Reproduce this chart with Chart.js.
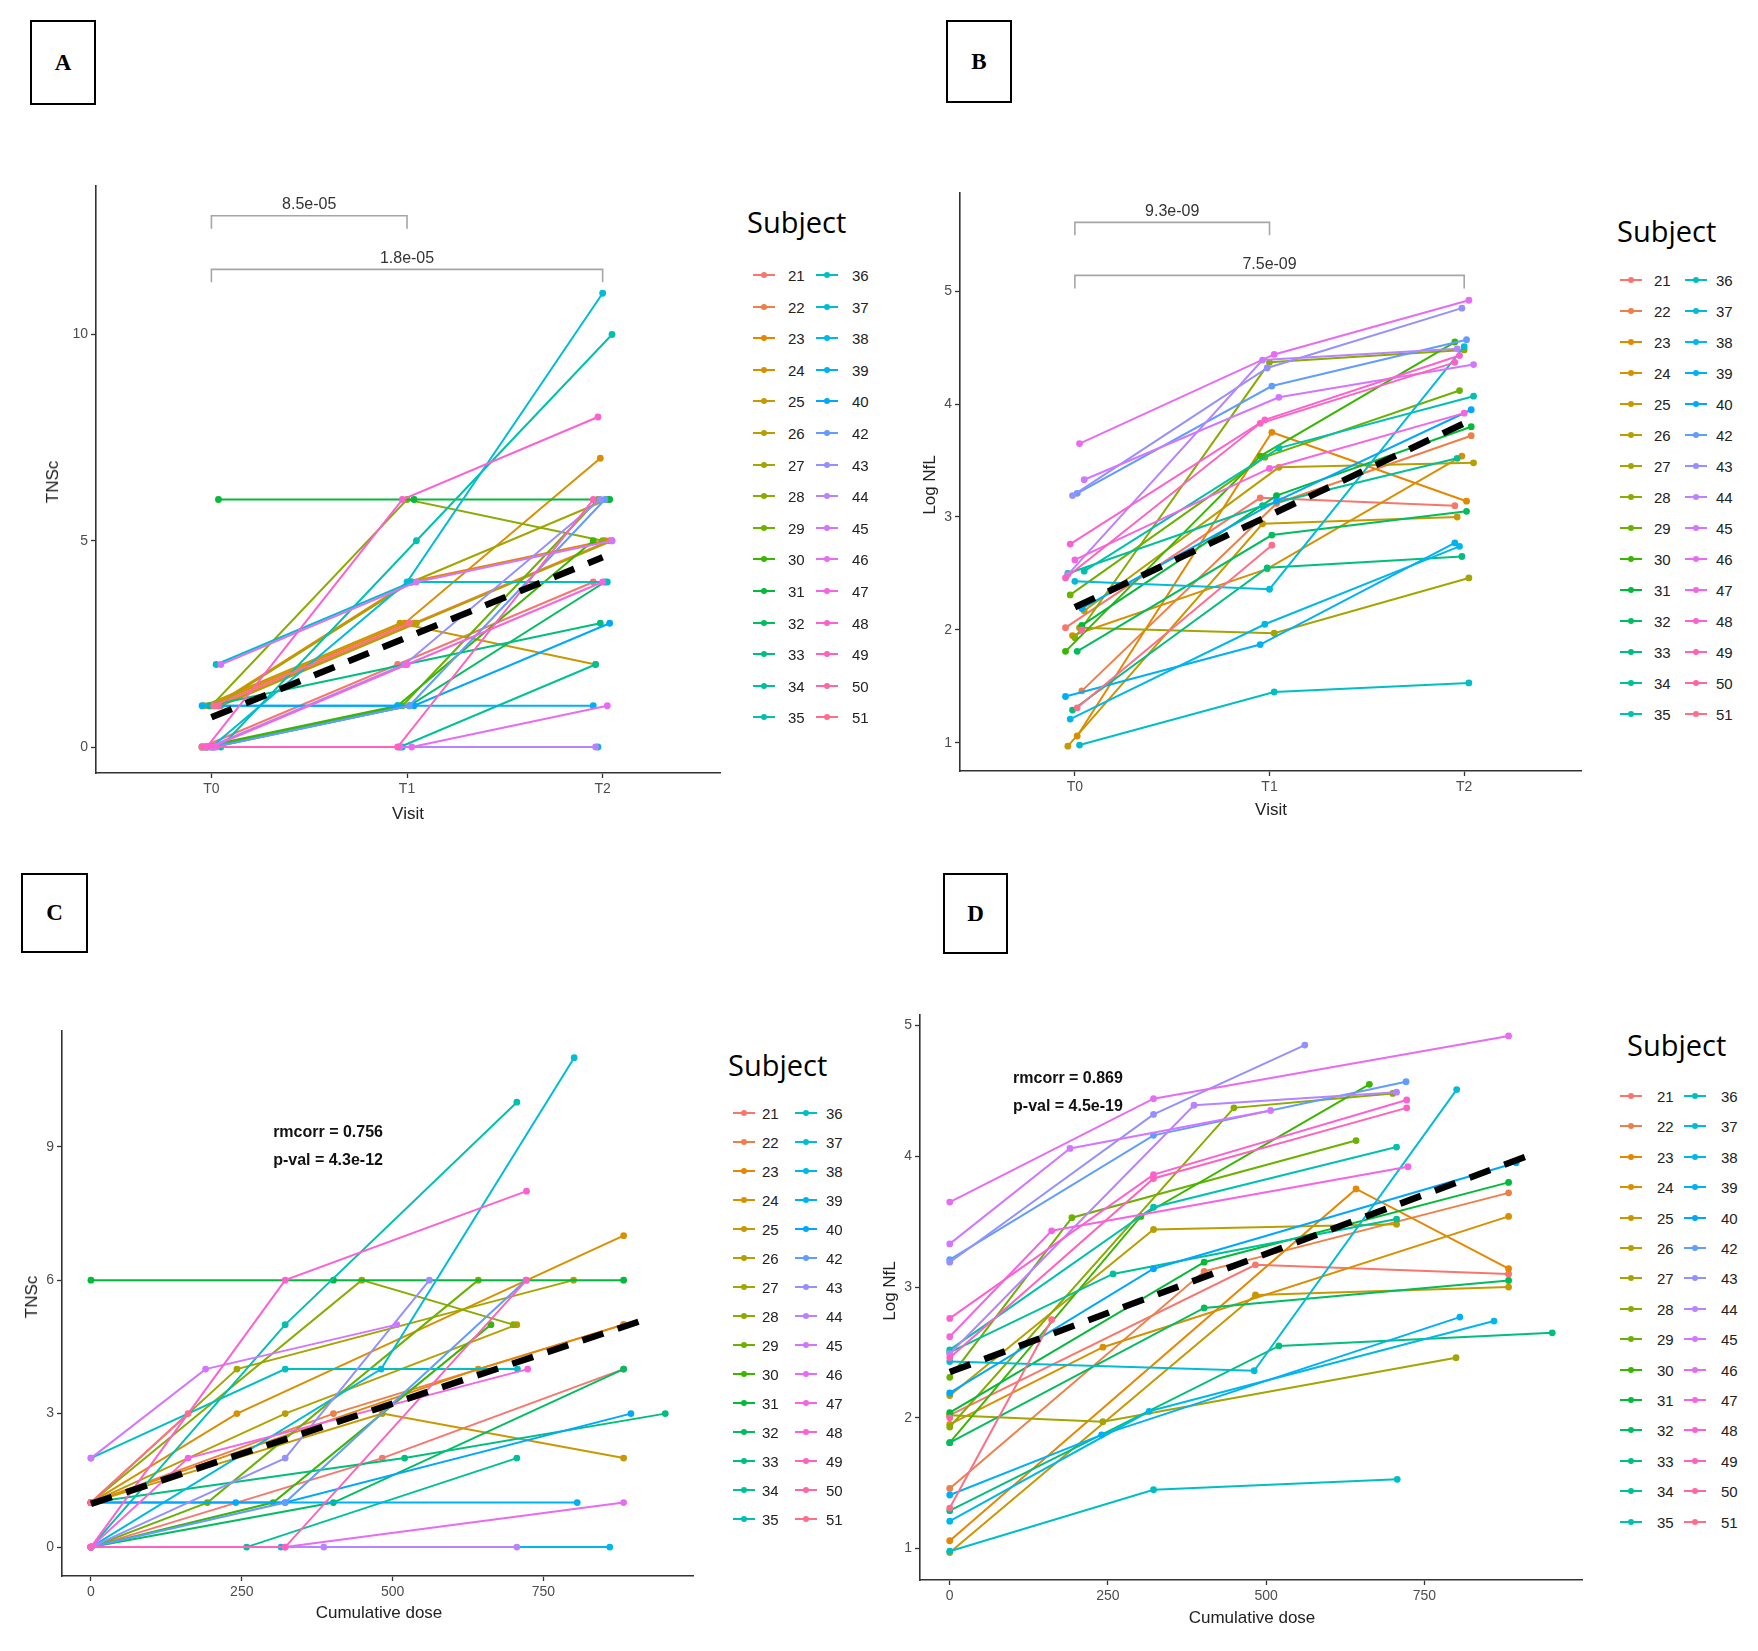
<!DOCTYPE html>
<html lang="en">
<head>
<meta charset="utf-8">
<script src="https://cdn.jsdelivr.net/npm/chart.js@4.4.0/dist/chart.umd.min.js"></script>
<style>
  body {margin:0; background:#fff; width:1758px; height:1651px; position:relative; overflow:hidden; font-family:"Liberation Sans", Arial, sans-serif;}
  canvas {position:absolute;}
  .tag {position:absolute; border:2px solid #000; box-sizing:border-box; font:bold 23px "Liberation Serif", "Times New Roman", serif;
        display:flex; align-items:center; justify-content:center; color:#000;}
  .lbl {position:absolute; color:#222; font-size:17px; white-space:nowrap; transform:translate(-50%,-50%);}
  .ylbl {transform:translate(-50%,-50%) rotate(-90deg);}
  .ltitle {position:absolute; font:29px "Open Sans", sans-serif; color:#000; transform:translateY(-50%);}
  .lkey {position:absolute; width:22px; height:2px; transform:translateY(-50%);}
  .lkey i {position:absolute; left:8px; top:-2px; width:6px; height:6px; border-radius:50%; background:inherit;}
  .ltxt {position:absolute; font-size:15px; color:#222; transform:translateY(-50%);}
</style>
</head>
<body>

<script type="text/javascript">
// subjects, in legend order
var subjects = ['21','22','23','24','25','26','27','28','29','30','31','32','33','34','35',
                '36','37','38','39','40','42','43','44','45','46','47','48','49','50','51'];
var visits = ['T0', 'T1', 'T2'];

// Log NfL at each visit
var nflT0 = [2.02,1.46,1.06,1.95,0.97,2.17,2.02,1.93,2.31,1.81,2.04,1.81,1.29,2.50,2.52,
             0.98,2.43,1.21,1.41,2.19,3.21,3.19,2.49,3.33,3.65,2.62,2.76,2.46,2.00,1.31];
var nflT1 = [3.17,3.12,3.75,2.54,2.94,3.44,1.97,4.37,3.53,3.54,3.19,2.84,2.55,3.10,3.61,
             1.45,2.36,2.05,1.87,3.14,4.16,4.32,4.39,4.06,4.44,3.43,3.86,3.83,null,2.75];
var nflT2 = [3.10,3.72,3.14,3.54,3.00,3.48,2.46,4.48,4.12,4.55,3.80,3.05,2.65,3.52,4.07,
             1.53,4.51,2.74,2.77,3.95,4.57,4.85,4.49,4.35,4.92,3.92,4.43,4.37,null,null];

// TNSc at each visit
var tnsT0 = [0,1,1,1,1,1,1,1,0,0,6,0,1,0,0, 2,0,0,1,1,0,0,0,2,0,0,0,0,1,1];
var tnsT1 = [2,3,4,3,3,3,4,6,1,1,6,1,2,0,5, 4,4,0,1,1,1,2,0,4,0,2,6,0,null,3];
var tnsT2 = [4,5,5,7,2,5,6,5,6,5,6,4,3,2,10, 4,11,0,1,3,6,6,0,5,1,4,8,6,null,null];

// cumulative dose at T1 and T2 (T0 = 0)
var doseT1 = [483,402,642,242,483,322,242,449,193,302,402,402,520,258,322,
              322,481,315,240,322,322,322,386,190,322,161,322,322,null,161];
var doseT2 = [883,883,883,883,883,706,800,700,642,663,883,883,952,706,706,
              707,801,860,806,895,721,561,706,507,883,724,722,722,null,null];

// fitted trend lines
var trendVisitX = [0, 2];
var trendTnsVisit = [0.72, 4.6];
var trendNflVisit = [2.2, 3.83];
var trendDoseTnsX = [0, 920];
var trendDoseTns = [0.97, 5.12];
var trendDoseNflX = [0, 912];
var trendDoseNfl = [2.35, 4.0];

// tick labels
var tnsTicksA = [0, 5, 10];
var tnsTicksC = [0, 3, 6, 9];
var nflTicks = [1, 2, 3, 4, 5];
var doseTicks = [0, 250, 500, 750];

// pairwise test labels
var pairFrom = [0, 0];
var pairTo = [1, 2];
var pairTns = ['8.5e-05', '1.8e-05'];
var pairNfl = ['9.3e-09', '7.5e-09'];

// ggplot default hue palette
function hcl(h, c, l) {
    var hr = h * Math.PI / 180;
    var U = c * Math.cos(hr), V = c * Math.sin(hr);
    var Xn = 95.047, Yn = 100, Zn = 108.883;
    var den = Xn + 15 * Yn + 3 * Zn;
    var un = 4 * Xn / den, vn = 9 * Yn / den;
    var Y = Yn * Math.pow((l + 16) / 116, 3);
    var u = U / (13 * l) + un, v = V / (13 * l) + vn;
    var X = 9 * Y * u / (4 * v), Z = -X / 3 - 5 * Y + 3 * Y / v;
    var x = X / 100, y = Y / 100, z = Z / 100;
    var rgb = [3.240479 * x - 1.537150 * y - 0.498535 * z,
              -0.969256 * x + 1.875992 * y + 0.041556 * z,
               0.055648 * x - 0.204043 * y + 1.057311 * z];
    return 'rgb(' + rgb.map(function (t) {
        t = t <= 0.0031308 ? 12.92 * t : 1.055 * Math.pow(t, 1 / 2.4) - 0.055;
        return Math.round(255 * Math.min(1, Math.max(0, t)));
    }).join(',') + ')';
}
var colors = subjects.map(function (s, i) { return hcl(15 + i * 360 / subjects.length, 100, 65); });

Chart.defaults.font.family = '"Liberation Sans", Arial, sans-serif';
Chart.defaults.animation = false;

function addDiv(cls, text, x, y, extra) {
    var d = document.createElement('div');
    d.className = cls;
    d.textContent = text;
    d.style.left = x + 'px';
    d.style.top = y + 'px';
    if (extra) for (var k in extra) d.style[k] = extra[k];
    document.body.appendChild(d);
    return d;
}

function legend(x0, y0, keyX1, txtX1, keyX2, txtX2, rowY, step) {
    addDiv('ltitle', 'Subject', x0, y0);
    subjects.forEach(function (s, i) {
        var col = i < 15 ? 0 : 1, row = i % 15;
        var y = rowY + row * step;
        var k = addDiv('lkey', '', col ? keyX2 : keyX1, y, {background: colors[i]});
        k.appendChild(document.createElement('i'));
        addDiv('ltxt', s, col ? txtX2 : txtX1, y);
    });
}

var annotPlugin = {
    id: 'annot',
    afterDatasetsDraw: function (chart, args, opts) {
        var ctx = chart.ctx, xs = chart.scales.x, ys = chart.scales.y;
        ctx.save();
        (opts.brackets || []).forEach(function (b) {
            var x0 = xs.getPixelForValue(b.from), x1 = xs.getPixelForValue(b.to);
            var yt = ys.getPixelForValue(b.y);
            ctx.strokeStyle = '#a6a6a6';
            ctx.lineWidth = 1.6;
            ctx.beginPath();
            ctx.moveTo(x0, yt + 13); ctx.lineTo(x0, yt); ctx.lineTo(x1, yt); ctx.lineTo(x1, yt + 13);
            ctx.stroke();
            ctx.fillStyle = '#333';
            ctx.font = '16px "Liberation Sans", Arial, sans-serif';
            ctx.textAlign = 'center';
            ctx.textBaseline = 'bottom';
            ctx.fillText(b.label, (x0 + x1) / 2, yt - 3);
        });
        (opts.texts || []).forEach(function (t) {
            ctx.fillStyle = '#111';
            ctx.font = 'bold 16px "Liberation Sans", Arial, sans-serif';
            ctx.textAlign = 'left';
            ctx.textBaseline = 'middle';
            ctx.fillText(t.text, xs.getPixelForValue(t.x), ys.getPixelForValue(t.y));
        });
        ctx.restore();
    }
};

function fixedTicks(arr) {
    return function (scale) { scale.ticks = arr.map(function (v) { return {value: v}; }); };
}

function panel(p) {
    var padL = 60, padT = 20, padR = 20, padB = 42;
    var cv = document.createElement('canvas');
    cv.width = p.plot.r - p.plot.l + padL + padR;
    cv.height = p.plot.b - p.plot.t + padT + padB;
    cv.style.left = (p.plot.l - padL) + 'px';
    cv.style.top = (p.plot.t - padT) + 'px';
    document.body.appendChild(cv);

    var datasets = subjects.map(function (s, i) {
        var pts = [];
        for (var v = 0; v < 3; v++) {
            var xv = p.xOf(i, v), yv = p.yOf(i, v);
            if (xv !== null && yv !== null) pts.push({x: xv, y: yv});
        }
        return {label: s, data: pts, borderColor: colors[i], backgroundColor: colors[i],
                borderWidth: 2, pointRadius: 3.4, pointBorderWidth: 0, order: 100 - i};
    });
    datasets.push({label: 'trend', order: 0, borderColor: '#000', borderWidth: 6.5,
                   borderDash: [22, 15], pointRadius: 0,
                   data: p.trendX.map(function (x, k) { return {x: x, y: p.trendY[k]}; })});

    var axisCommon = {
        grid: {drawOnChartArea: false, drawTicks: true, tickLength: 5, color: '#333', tickWidth: 1.3},
        border: {display: true, color: '#333', width: 1.6}
    };
    new Chart(cv, {
        type: 'line',
        data: {datasets: datasets},
        plugins: [annotPlugin],
        options: {
            responsive: false,
            layout: {padding: {left: 0, top: padT, right: padR, bottom: 0}},
            plugins: {legend: {display: false}, tooltip: {enabled: false},
                      annot: {brackets: p.brackets, texts: p.texts}},
            scales: {
                x: Object.assign({}, axisCommon, {
                    type: 'linear', min: p.x.min, max: p.x.max,
                    afterBuildTicks: fixedTicks(p.x.ticks),
                    afterFit: function (s) { s.height = padB; },
                    ticks: {font: {size: 14}, color: '#4d4d4d', padding: 3,
                            callback: p.x.fmt || function (v) { return v; }}
                }),
                y: Object.assign({}, axisCommon, {
                    type: 'linear', min: p.y.min, max: p.y.max,
                    afterBuildTicks: fixedTicks(p.y.ticks),
                    afterFit: function (s) { s.width = padL; },
                    ticks: {font: {size: 14}, color: '#4d4d4d', padding: 3}
                })
            }
        }
    });
}

function jit(i) { return ((i * 7) % 9 - 4) * 0.012; }
function visitX(i, v) { return v + jit(i); }
function doseX(i, v) { return v === 0 ? 0 : (v === 1 ? doseT1[i] : doseT2[i]); }
function tnsY(i, v) { return [tnsT0, tnsT1, tnsT2][v][i]; }
function nflY(i, v) { return [nflT0, nflT1, nflT2][v][i]; }
function visitFmt(v) { return visits[v]; }

window.onload = function () {
    // A: TNSc by visit
    panel({plot: {l: 96, t: 186, r: 720, b: 773},
           x: {min: -0.59, max: 2.6, ticks: [0, 1, 2], fmt: visitFmt},
           y: {min: -0.63, max: 13.6, ticks: tnsTicksA},
           xOf: visitX, yOf: tnsY, trendX: trendVisitX, trendY: trendTnsVisit,
           brackets: [{from: pairFrom[0], to: pairTo[0], y: 12.88, label: pairTns[0]},
                      {from: pairFrom[1], to: pairTo[1], y: 11.58, label: pairTns[1]}]});
    // B: Log NfL by visit
    panel({plot: {l: 960, t: 193, r: 1581, b: 771},
           x: {min: -0.59, max: 2.6, ticks: [0, 1, 2], fmt: visitFmt},
           y: {min: 0.75, max: 5.87, ticks: nflTicks},
           xOf: visitX, yOf: nflY, trendX: trendVisitX, trendY: trendNflVisit,
           brackets: [{from: pairFrom[0], to: pairTo[0], y: 5.61, label: pairNfl[0]},
                      {from: pairFrom[1], to: pairTo[1], y: 5.14, label: pairNfl[1]}]});
    // C: TNSc by cumulative dose
    panel({plot: {l: 62, t: 1031, r: 693, b: 1576},
           x: {min: -48, max: 998, ticks: doseTicks},
           y: {min: -0.65, max: 11.6, ticks: tnsTicksC},
           xOf: doseX, yOf: tnsY, trendX: trendDoseTnsX, trendY: trendDoseTns,
           texts: [{x: 302, y: 9.31, text: 'rmcorr = 0.756'}, {x: 302, y: 8.68, text: 'p-val = 4.3e-12'}]});
    // D: Log NfL by cumulative dose
    panel({plot: {l: 920, t: 1015, r: 1582, b: 1580},
           x: {min: -47, max: 999, ticks: doseTicks},
           y: {min: 0.76, max: 5.08, ticks: nflTicks},
           xOf: doseX, yOf: nflY, trendX: trendDoseNflX, trendY: trendDoseNfl,
           texts: [{x: 100, y: 4.59, text: 'rmcorr = 0.869'}, {x: 100, y: 4.38, text: 'p-val = 4.5e-19'}]});

    // panel letters
    addDiv('tag', 'A', 30, 20, {width: '66px', height: '85px'});
    addDiv('tag', 'B', 946, 20, {width: '66px', height: '83px'});
    addDiv('tag', 'C', 21, 873, {width: '67px', height: '80px'});
    addDiv('tag', 'D', 943, 873, {width: '65px', height: '81px'});

    // axis titles
    addDiv('lbl ylbl', 'TNSc', 53, 482);
    addDiv('lbl', 'Visit', 408, 814);
    addDiv('lbl ylbl', 'Log NfL', 930, 485);
    addDiv('lbl', 'Visit', 1271, 810);
    addDiv('lbl ylbl', 'TNSc', 32, 1297);
    addDiv('lbl', 'Cumulative dose', 379, 1613);
    addDiv('lbl ylbl', 'Log NfL', 890, 1291);
    addDiv('lbl', 'Cumulative dose', 1252, 1618);

    // legends
    legend(747, 221, 753, 788, 816, 852, 275, 31.6);
    legend(1617, 230, 1620, 1654, 1685, 1716, 280, 31);
    legend(728, 1064, 733, 762, 795, 826, 1113, 29.0);
    legend(1627, 1044, 1620, 1657, 1684, 1721, 1096, 30.4);
};
</script>
</body>
</html>
